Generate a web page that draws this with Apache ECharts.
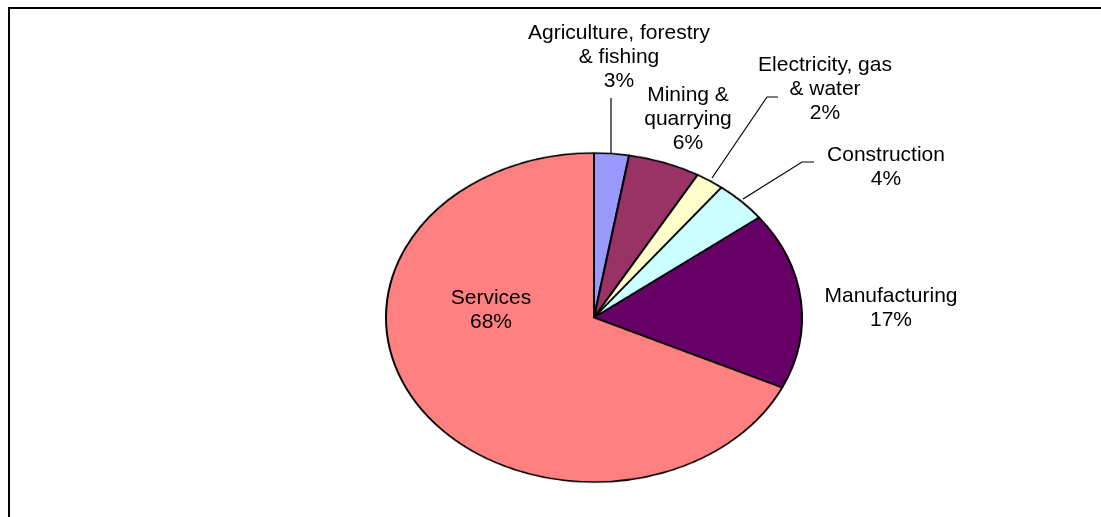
<!DOCTYPE html>
<html>
<head>
<meta charset="utf-8">
<script src="https://cdn.jsdelivr.net/npm/echarts@6/dist/echarts.min.js"></script>
<style>
  html, body { margin: 0; padding: 0; background: #fff; }
  #wrap { position: relative; width: 1101px; height: 517px; overflow: hidden; background: #fff; }
  #frame { position: absolute; left: 8px; top: 7px; width: 1200px; height: 600px; border-top: 2px solid #000; border-left: 2px solid #000; box-sizing: border-box; }
  #pie { position: absolute; left: 0; top: 0; width: 1101px; height: 760px; transform-origin: 594px 317.5px; transform: scaleY(0.791); }
  #lab { position: absolute; left: 0; top: 0; width: 1101px; height: 517px; }
</style>
</head>
<body>
<div id="wrap">
  <div id="frame"></div>
  <div id="pie"></div>
  <div id="lab"></div>
</div>
<script>
// ---- data ----
const categories = [
  'Agriculture, forestry\n& fishing',
  'Mining &\nquarrying',
  'Electricity, gas\n& water',
  'Construction',
  'Manufacturing',
  'Services'
];
const shares = [2.7, 5.6, 2.2, 4.1, 17.4, 68.0];
const colors = ['#9999FF', '#993366', '#FFFFCC', '#CCFFFF', '#660066', '#FF8080'];

// ---- layout (label anchors and leader lines, not data) ----
const labelAnchors = [[619, 57], [688, 119], [825, 89], [886, 167], [891, 308], [491, 310]];
const leaderLines = [
  [[611, 153], [611, 125], [611, 98]],
  null,
  [[712, 178], [767, 97], [778, 97]],
  [[743, 199], [802, 162], [814, 162]],
  null,
  null
];

const CX = 594, CY = 317.5, R = 208;

const pieData = categories.map((c, i) => ({
  name: c, value: shares[i], itemStyle: { color: colors[i] }
}));

const pieChart = echarts.init(document.getElementById('pie'), null, { renderer: 'canvas' });
pieChart.setOption({
  animation: false,
  series: [{
    type: 'pie',
    silent: true,
    center: [CX, CY],
    radius: R,
    startAngle: 90,
    clockwise: true,
    label: { show: false },
    labelLine: { show: false },
    itemStyle: { borderColor: '#000', borderWidth: 2 },
    data: pieData
  }]
});

const labData = categories.map((c, i) => ({
  name: c, value: shares[i],
  itemStyle: { color: 'rgba(0,0,0,0)', borderWidth: 0 },
  labelLine: { show: !!leaderLines[i] }
}));

const labChart = echarts.init(document.getElementById('lab'), null, { renderer: 'canvas' });
labChart.setOption({
  animation: false,
  series: [{
    type: 'pie',
    silent: true,
    center: [CX, CY],
    radius: R,
    startAngle: 90,
    clockwise: true,
    avoidLabelOverlap: false,
    label: {
      show: true,
      position: 'outside',
      formatter: p => p.name + '\n' + Math.round(p.percent) + '%',
      fontFamily: '"Liberation Sans", Arial, sans-serif',
      fontSize: 21,
      lineHeight: 24,
      color: '#000',
      align: 'center'
    },
    labelLine: { lineStyle: { color: '#000', width: 1.2 } },
    labelLayout: function (params) {
      const i = params.dataIndex;
      const o = { x: labelAnchors[i][0], y: labelAnchors[i][1], align: 'center', verticalAlign: 'middle' };
      if (leaderLines[i]) o.labelLinePoints = leaderLines[i];
      return o;
    },
    data: labData
  }]
});
</script>
</body>
</html>
